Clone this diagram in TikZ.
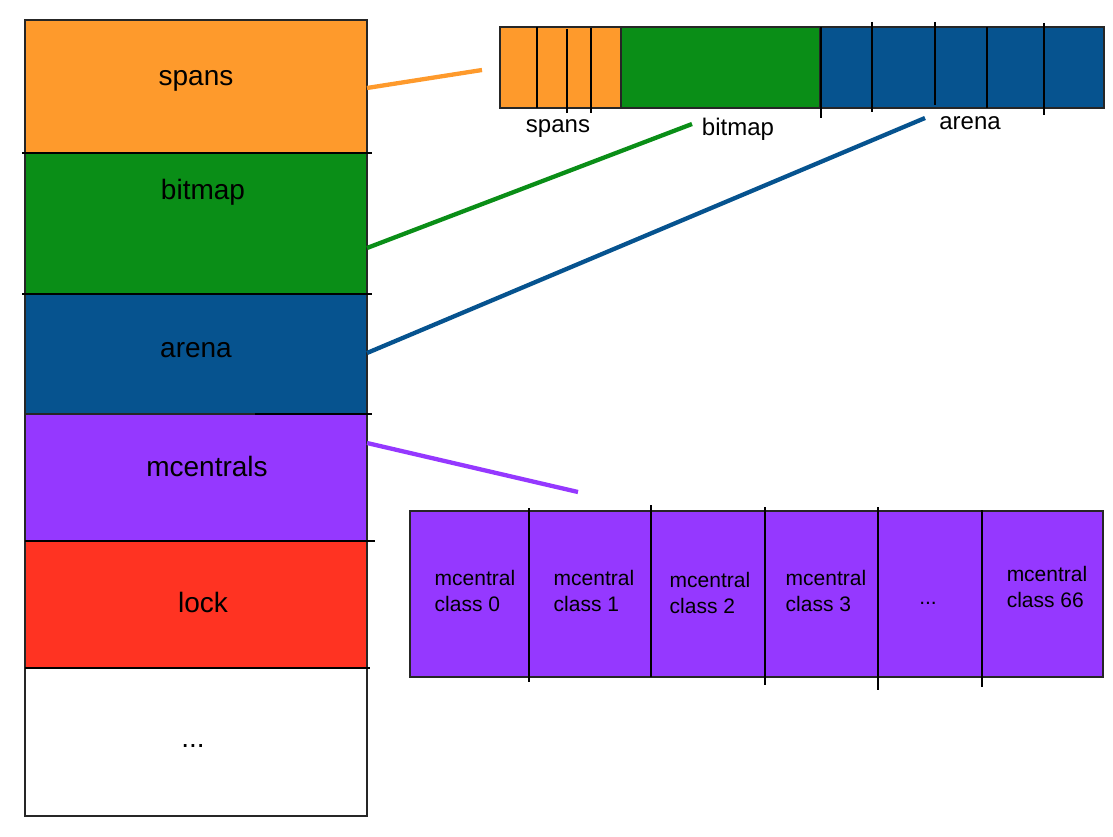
\documentclass[tikz,border=0pt]{standalone}
\usepackage{fontspec}
\setmainfont{Liberation Sans}
\definecolor{corange}{HTML}{FE9A2C}
\definecolor{cgreen}{HTML}{0A8E17}
\definecolor{cblue}{HTML}{06538F}
\definecolor{cpurple}{HTML}{9538FF}
\definecolor{cred}{HTML}{FF3322}
\begin{document}
\begin{tikzpicture}[x=1pt,y=-1pt,
  blk/.style={draw=black!85, line width=1.3pt, inner sep=0pt, outer sep=0pt},
  colblk/.style={blk, minimum width=342pt},
  barblk/.style={blk, minimum height=81pt},
  bigtxt/.style={font=\fontsize{28}{32}\selectfont, inner sep=0pt},
  midtxt/.style={font=\fontsize{24}{28}\selectfont, inner sep=0pt},
  celltxt/.style={font=\fontsize{21}{26}\selectfont, align=left, inner sep=0pt},
  sep/.style={black, line width=1.3pt},
  conn/.style={line width=4.3pt}]
\useasboundingbox (0,0) rectangle (1113,837);

% left column
\node[colblk, fill=corange, minimum height=133pt] (spansbox) at (196,86.5) {};
\node[colblk, fill=cgreen, minimum height=141pt] (bitmapbox) at (196,223.5) {};
\node[colblk, fill=cblue, minimum height=120pt] (arenabox) at (196,354) {};
\node[colblk, fill=cpurple, minimum height=127pt] (mcbox) at (196,477.5) {};
\node[colblk, fill=cred, minimum height=127pt] (lockbox) at (196,604.5) {};
\node[colblk, fill=white, minimum height=148pt] (dotsbox) at (196,742) {};
\draw[sep] (22,153) -- (372,153);
\draw[sep] (22,294) -- (372,294);
\draw[sep] (255,414) -- (372,414);
\draw[sep] (25,541) -- (375,541);
\draw[sep] (25,668) -- (370,668);

\node[bigtxt] (spanslbl) at (196,81) {spans};
\node[bigtxt] (bitmaplbl) at (203,192) {bitmap};
\node[bigtxt] (arenalbl) at (196,350) {arena};
\node[bigtxt] (mclbl) at (207,466) {mcentrals};
\node[bigtxt] (locklbl) at (203,602) {lock};
\node[bigtxt] (dotslbl) at (193,746) {...};

% top bar
\node[barblk, fill=corange, minimum width=121pt] (tspans) at (560.5,67.5) {};
\node[barblk, fill=cgreen, minimum width=199pt] (tbitmap) at (720.5,67.5) {};
\node[barblk, fill=cblue, minimum width=284pt] (tarena) at (962,67.5) {};
\draw[sep] (537,27) -- (537,108);
\draw[sep] (567,29) -- (567,113);
\draw[sep] (591,28) -- (591,113);
\draw[sep] (821,27) -- (821,118);
\draw[sep] (872,22) -- (872,112);
\draw[sep] (935,22) -- (935,105);
\draw[sep] (987,27) -- (987,108);
\draw[sep] (1044,23) -- (1044,115);

\node[midtxt] (tspanslbl) at (558,129) {spans};
\node[midtxt] (tbitmaplbl) at (738,129) {bitmap};
\node[midtxt] (tarenalbl) at (970,123) {arena};

% mcentral bar
\node[blk, fill=cpurple, minimum width=693pt, minimum height=166pt] (mcbar) at (756.5,594) {};
\draw[sep] (529,508) -- (529,682);
\draw[sep] (651,505) -- (651,677);
\draw[sep] (765,507) -- (765,685);
\draw[sep] (878,507) -- (878,690);
\draw[sep] (982,510) -- (982,687);

\node[celltxt] (c0) at (475,591) {mcentral\\class 0};
\node[celltxt] (c1) at (594,591) {mcentral\\class 1};
\node[celltxt] (c2) at (710,593) {mcentral\\class 2};
\node[celltxt] (c3) at (826,591) {mcentral\\class 3};
\node[celltxt] (cdots) at (928,603) {...};
\node[celltxt] (c66) at (1047,587) {mcentral\\class 66};

% connectors
\coordinate (a1) at (367,88);
\coordinate (b1) at (482,70);
\coordinate (a2) at (367,248);
\coordinate (b2) at (692,124);
\coordinate (a3) at (367,353);
\coordinate (b3) at (925,118);
\coordinate (a4) at (367,443);
\coordinate (b4) at (578,492);
\draw[conn, corange] (a1) -- (b1);
\draw[conn, cgreen] (a2) -- (b2);
\draw[conn, cblue] (a3) -- (b3);
\draw[conn, cpurple] (a4) -- (b4);
\end{tikzpicture}
\end{document}
